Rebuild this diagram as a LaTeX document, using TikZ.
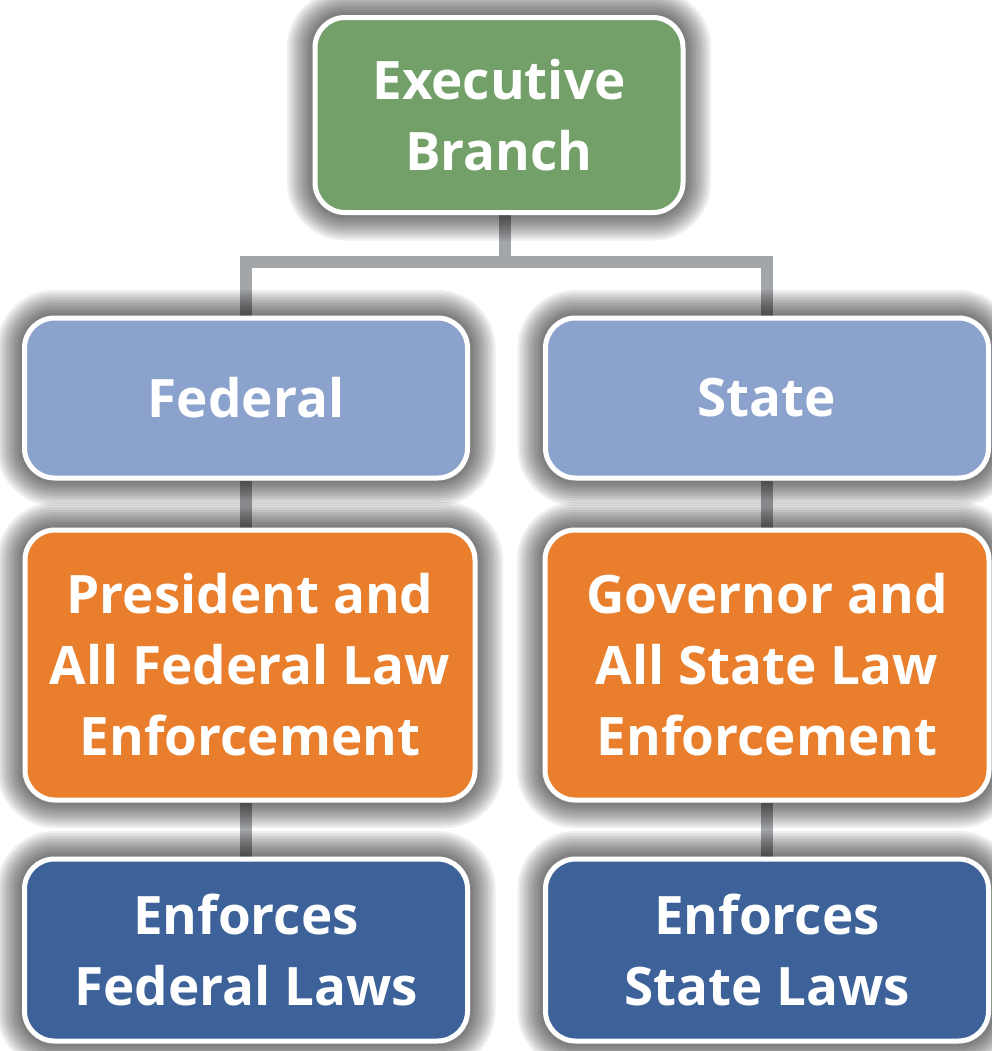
\documentclass[tikz,border=0pt]{standalone}
\usepackage{fontspec}
\setmainfont{Open Sans}
\usetikzlibrary{backgrounds}

\definecolor{execgreen}{HTML}{739F68}
\definecolor{levelblue}{HTML}{8BA2CC}
\definecolor{officeorange}{HTML}{E97E2C}
\definecolor{dutyblue}{HTML}{3C6299}
\definecolor{linkgray}{HTML}{A3A6A9}

\begin{document}
\begin{tikzpicture}[x=0.5pt, y=-0.5pt,
  ring/.style={preaction={draw=black, draw opacity=0.065, line join=round,
    line width=#1}},
  halo/.style={ring=28pt, ring=25.5pt, ring=23pt, ring=20.5pt, ring=18pt,
    ring=15.5pt, ring=13pt, ring=10.5pt, ring=8pt, ring=5.5pt},
  box/.style={halo, draw=white, line width=2.5pt, rounded corners=15pt,
    text=white, align=center,
    font=\fontsize{26.5}{35.5}\selectfont\bfseries},
  link/.style={draw=linkgray, line width=6pt, line join=miter}]

% Layout constants (pixels of the source image)
\def\lx{246}   % left column
\def\rx{767}   % right column
\def\cw{443}   % column box width

\useasboundingbox (0,0) rectangle (992,1051);

%% ---- top ------------------------------------------------
\node[box, fill=execgreen, minimum width=184pt, minimum height=97.5pt]
  (exec) at (499,115) {Executive\\Branch};

%% ---- levels ---------------------------------------------
\node[box, fill=levelblue, minimum width=\cw*0.5pt, minimum height=80pt]
  (fed) at (\lx,398) {Federal};
\node[box, fill=levelblue, minimum width=\cw*0.5pt, minimum height=80pt]
  (state) at (\rx,398) {State};

%% ---- offices --------------------------------------------
\node[box, fill=officeorange, minimum width=225pt, minimum height=135pt]
  (pres) at (250,665) {President and\\All Federal Law\\Enforcement};
\node[box, fill=officeorange, minimum width=222pt, minimum height=135pt]
  (gov) at (\rx,665) {Governor and\\All State Law\\Enforcement};

%% ---- duties ---------------------------------------------
\node[box, fill=dutyblue, minimum width=\cw*0.5pt, minimum height=91pt]
  (enfed) at (\lx,950) {Enforces\\Federal Laws};
\node[box, fill=dutyblue, minimum width=\cw*0.5pt, minimum height=91pt]
  (enstate) at (\rx,950) {Enforces\\State Laws};

% Connectors behind the boxes
\coordinate (bar) at (505,262);
\begin{scope}[on background layer]
  \draw[link] (bar |- exec.south) -- (bar);
  \draw[link] (fed.north) |- (bar) -| (state.north);
  \draw[link] (fed.south) -- (fed.south |- pres.north);
  \draw[link] (state.south) -- (gov.north);
  \draw[link] (fed.south |- pres.south) -- (enfed.north);
  \draw[link] (gov.south) -- (enstate.north);
\end{scope}

\end{tikzpicture}
\end{document}
